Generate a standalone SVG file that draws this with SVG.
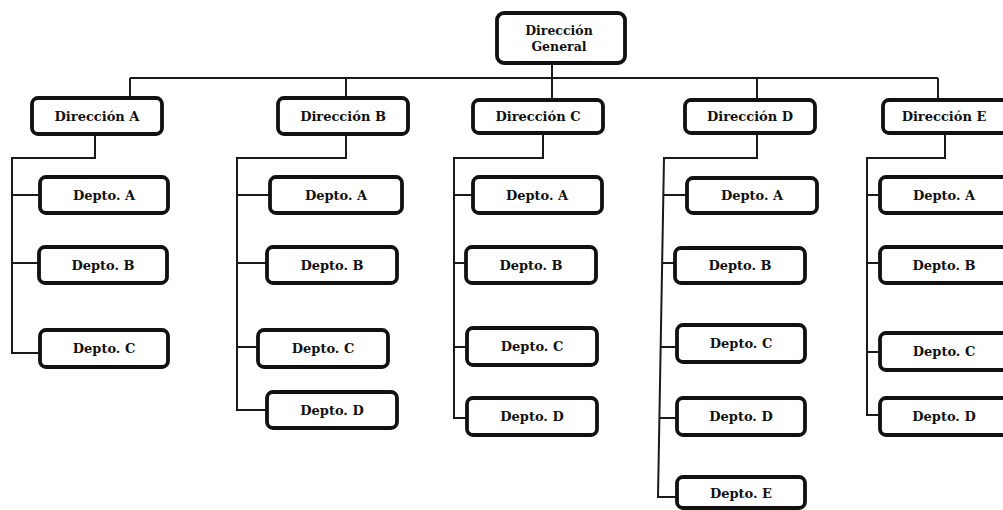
<svg xmlns="http://www.w3.org/2000/svg" width="1003" height="510" viewBox="0 0 1003 510">
<style>
.box{fill:#fff;stroke:#111;stroke-width:3.8}
.ln{fill:none;stroke:#1a1a1a;stroke-width:2}
.lbl{font-family:'DejaVu Serif','Liberation Serif',serif;font-weight:bold;font-size:13px;fill:#111;text-anchor:middle}
.t{font-size:12.5px}
</style>
<rect width="1003" height="510" fill="#fff"/>
<g id="connectors" class="ln">
<path d="M552,63V100M130,78H938M130,78V98M346,78V98M757,78V100M938,78V100"/>
<path d="M95,134V158H12V353H40M12,195H40M12,263H40"/>
<path d="M346,134V158H237V410H267M237,195H270M237,263H267M237,347H258"/>
<path d="M543,133V158H454V418H467M454,195H473M454,263H466M454,347H467"/>
<path d="M757,133V158H664L658,497H677M663,195H687M662,263H675M661,347H677M660,418H677"/>
<path d="M945,133V158H867V415H880M867,195H880M867,263H880M867,352H880"/>
</g>
<g class="lbl">
<g id="n-general"><rect class="box" x="497" y="13" width="128" height="50" rx="7"/><text class="t" x="559" y="35">Dirección</text><text class="t" x="559" y="51">General</text></g>
<g id="n-dirA"><rect class="box" x="32" y="98" width="130" height="36" rx="6"/><text x="97" y="121">Dirección A</text></g>
<g id="n-dirB"><rect class="box" x="278" y="98" width="130" height="36" rx="6"/><text x="343" y="121">Dirección B</text></g>
<g id="n-dirC"><rect class="box" x="473" y="100" width="130" height="33" rx="6"/><text x="538" y="121">Dirección C</text></g>
<g id="n-dirD"><rect class="box" x="685" y="100" width="130" height="33" rx="6"/><text x="750" y="121">Dirección D</text></g>
<g id="n-dirE"><rect class="box" x="883" y="100" width="130" height="33" rx="6"/><text x="944" y="121">Dirección E</text></g>
<g id="n-A-A"><rect class="box" x="40" y="177" width="128" height="36" rx="6"/><text x="104" y="200">Depto. A</text></g>
<g id="n-A-B"><rect class="box" x="39" y="247" width="128" height="36" rx="6"/><text x="103" y="270">Depto. B</text></g>
<g id="n-A-C"><rect class="box" x="40" y="330" width="128" height="37" rx="6"/><text x="104" y="353">Depto. C</text></g>
<g id="n-B-A"><rect class="box" x="270" y="177" width="132" height="36" rx="6"/><text x="336" y="200">Depto. A</text></g>
<g id="n-B-B"><rect class="box" x="267" y="247" width="130" height="36" rx="6"/><text x="332" y="270">Depto. B</text></g>
<g id="n-B-C"><rect class="box" x="258" y="330" width="130" height="37" rx="6"/><text x="323" y="353">Depto. C</text></g>
<g id="n-B-D"><rect class="box" x="267" y="392" width="130" height="36" rx="6"/><text x="332" y="415">Depto. D</text></g>
<g id="n-C-A"><rect class="box" x="473" y="177" width="129" height="36" rx="6"/><text x="537" y="200">Depto. A</text></g>
<g id="n-C-B"><rect class="box" x="466" y="247" width="130" height="36" rx="6"/><text x="531" y="270">Depto. B</text></g>
<g id="n-C-C"><rect class="box" x="467" y="328" width="130" height="37" rx="6"/><text x="532" y="351">Depto. C</text></g>
<g id="n-C-D"><rect class="box" x="467" y="398" width="130" height="37" rx="6"/><text x="532" y="421">Depto. D</text></g>
<g id="n-D-A"><rect class="box" x="687" y="178" width="130" height="35" rx="6"/><text x="752" y="200">Depto. A</text></g>
<g id="n-D-B"><rect class="box" x="675" y="248" width="130" height="35" rx="6"/><text x="740" y="270">Depto. B</text></g>
<g id="n-D-C"><rect class="box" x="677" y="325" width="128" height="37" rx="6"/><text x="741" y="348">Depto. C</text></g>
<g id="n-D-D"><rect class="box" x="677" y="398" width="128" height="37" rx="6"/><text x="741" y="421">Depto. D</text></g>
<g id="n-D-E"><rect class="box" x="677" y="477" width="128" height="31" rx="6"/><text x="741" y="498">Depto. E</text></g>
<g id="n-E-A"><rect class="box" x="880" y="177" width="130" height="36" rx="6"/><text x="944" y="200">Depto. A</text></g>
<g id="n-E-B"><rect class="box" x="880" y="247" width="130" height="36" rx="6"/><text x="944" y="270">Depto. B</text></g>
<g id="n-E-C"><rect class="box" x="880" y="333" width="130" height="37" rx="6"/><text x="944" y="356">Depto. C</text></g>
<g id="n-E-D"><rect class="box" x="880" y="398" width="130" height="37" rx="6"/><text x="944" y="421">Depto. D</text></g>
</g>
</svg>
